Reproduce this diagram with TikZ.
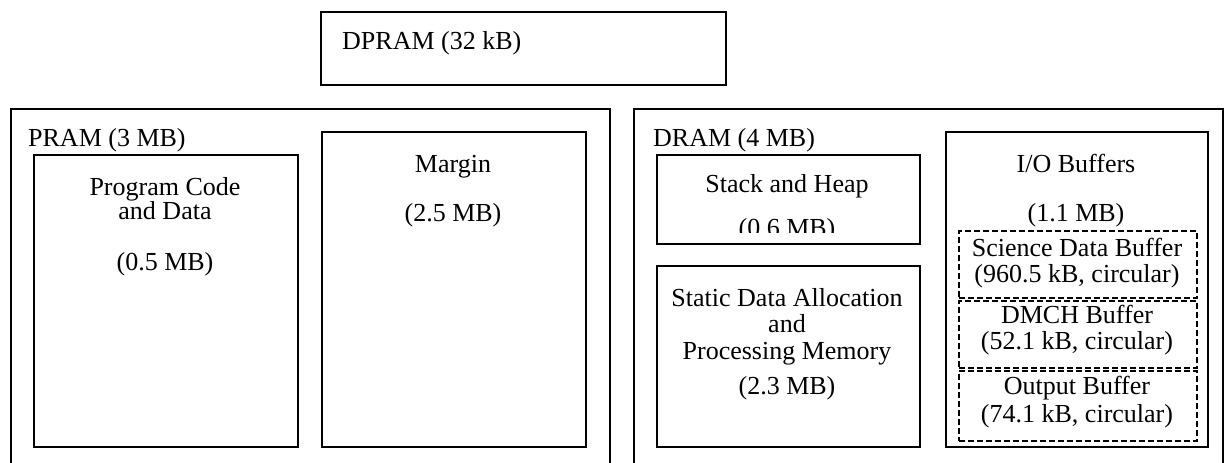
\documentclass[tikz,border=0pt]{standalone}
\usepackage{fontspec}
\setmainfont{Liberation Serif}
\begin{document}
\begin{tikzpicture}[x=1pt,y=-1pt,
  box/.style={draw,line width=2pt,inner sep=0pt},
  dbox/.style={draw,line width=1.6pt,dash pattern=on 6pt off 3pt,inner sep=0pt},
  lbl/.style={font=\fontsize{26}{30}\selectfont,inner sep=0pt,anchor=base},
  llbl/.style={lbl,anchor=base west}]
\useasboundingbox (0,0) rectangle (1232,463);
\clip (0,0) rectangle (1232,463);
% DPRAM
\node[box,minimum width=405pt,minimum height=73pt,anchor=north west] (dpram) at (320,11) {};
\node[llbl] (dpramt) at (342,49) {DPRAM (32 kB)};
% PRAM outer
\node[box,minimum width=599pt,minimum height=380pt,anchor=north west] (pram) at (10,108) {};
\node[llbl] (pramt) at (28,146) {PRAM (3 MB)};
\node[box,minimum width=264pt,minimum height=292pt,anchor=north west] (code) at (33,154) {};
\node[lbl] (code1) at (165,195) {Program Code};
\node[lbl] (code2) at (165,219) {and Data};
\node[lbl] (code3) at (165,270) {(0.5 MB)};
\node[box,minimum width=264pt,minimum height=315pt,anchor=north west] (margin) at (321,131) {};
\node[lbl] (margin1) at (453,172) {Margin};
\node[lbl] (margin2) at (453,221) {(2.5 MB)};
% DRAM outer
\node[box,minimum width=589pt,minimum height=380pt,anchor=north west] (dram) at (633,108) {};
\node[llbl] (dramt) at (653,146) {DRAM (4 MB)};
\node[box,minimum width=263pt,minimum height=89pt,anchor=north west] (stack) at (656,154) {};
\node[lbl] (stack1) at (787,192) {Stack and Heap};
\begin{scope}
\clip (656,154) rectangle (919,232);
\node[lbl] (stack2) at (787,236) {(0.6 MB)};
\end{scope}
\node[box,minimum width=263pt,minimum height=181pt,anchor=north west] (static) at (656,265) {};
\node[lbl] (static1) at (787,306) {Static Data Allocation};
\node[lbl] (static2) at (787,332) {and};
\node[lbl] (static3) at (787,359) {Processing Memory};
\node[lbl] (static4) at (787,394) {(2.3 MB)};
\node[box,minimum width=262pt,minimum height=315pt,anchor=north west] (io) at (945,131) {};
\node[lbl] (io1) at (1076,172) {I/O Buffers};
\node[lbl] (io2) at (1076,221) {(1.1 MB)};
\node[dbox,minimum width=238pt,minimum height=67pt,anchor=north west] (sci) at (958,230) {};
\node[lbl] (sci1) at (1077,256) {Science Data Buffer};
\node[lbl] (sci2) at (1077,282) {(960.5 kB, circular)};
\node[dbox,minimum width=238pt,minimum height=67pt,anchor=north west] (dmch) at (958,300) {};
\node[lbl] (dmch1) at (1077,323) {DMCH Buffer};
\node[lbl] (dmch2) at (1077,349) {(52.1 kB, circular)};
\node[dbox,minimum width=238pt,minimum height=70pt,anchor=north west] (out) at (958,370) {};
\node[lbl] (out1) at (1077,394) {Output Buffer};
\node[lbl] (out2) at (1077,422) {(74.1 kB, circular)};
\end{tikzpicture}
\end{document}
